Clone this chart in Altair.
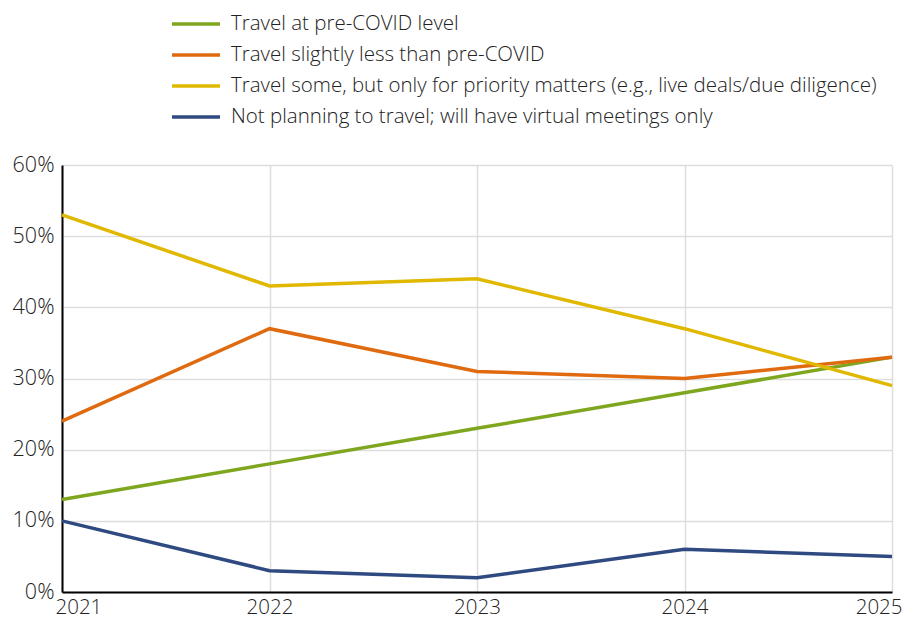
import altair as alt
import pandas as pd

years = [2021, 2022, 2023, 2024, 2025]
series_names = [
    "Travel at pre-COVID level",
    "Travel slightly less than pre-COVID",
    "Travel some, but only for priority matters (e.g., live deals/due diligence)",
    "Not planning to travel; will have virtual meetings only",
]
colors = ["#7fa61f", "#e06a10", "#e0b800", "#2f4a80"]
pre_covid = [0.13, 0.18, 0.23, 0.28, 0.33]
slightly_less = [0.24, 0.37, 0.31, 0.30, 0.33]
priority_only = [0.53, 0.43, 0.44, 0.37, 0.29]
virtual_only = [0.10, 0.03, 0.02, 0.06, 0.05]

rows = []
for name, vals in zip(series_names, [pre_covid, slightly_less, priority_only, virtual_only]):
    for y, v in zip(years, vals):
        rows.append({"series": name, "year": y, "value": v})
df = pd.DataFrame(rows)

FONT = "Open Sans"
WEIGHT = 300

chart = alt.Chart(df).mark_line(strokeWidth=3.5).encode(
    x=alt.X(
        "year:Q",
        scale=alt.Scale(domain=[2021, 2025], nice=False, zero=False),
        axis=alt.Axis(
            values=years, format="d", title=None, ticks=False,
            domainColor="#000", domainWidth=2, labelPadding=5,
            gridColor="#dddddd", gridWidth=1.5, labelFlush=True,
            labelFontSize=20.5, labelColor="#222", labelFont=FONT, labelFontWeight=WEIGHT,
            labelOffset={"condition": [
                {"test": "datum.value == 2021", "value": -7},
                {"test": "datum.value == 2025", "value": 10},
            ], "value": 0},
        ),
    ),
    y=alt.Y(
        "value:Q",
        scale=alt.Scale(domain=[0, 0.6], nice=False),
        axis=alt.Axis(
            values=[0, 0.1, 0.2, 0.3, 0.4, 0.5, 0.6], format=".0%", title=None, ticks=False,
            domainColor="#000", domainWidth=2, labelPadding=8,
            gridColor="#dddddd", gridWidth=1.5,
            labelFontSize=21.5, labelColor="#222", labelFont=FONT, labelFontWeight=WEIGHT,
        ),
    ),
    color=alt.Color(
        "series:N",
        scale=alt.Scale(domain=series_names, range=colors),
        legend=alt.Legend(
            title=None, orient="none", legendX=120, legendY=-155,
            direction="vertical", symbolType="M-2,0H2", symbolSize=576,
            symbolStrokeWidth=3.5, labelFontSize=20.5, labelFont=FONT, labelFontWeight=WEIGHT,
            labelColor="#222", labelOffset=21, rowPadding=6, labelLimit=800,
        ),
    ),
).properties(
    width=830, height=427,
    autosize=alt.AutoSizeParams(type="none"),
    padding={"left": 54, "top": 157, "right": 11, "bottom": 26},
).configure_view(stroke=None)

chart.save("out.html", embed_options={"renderer": "svg", "actions": False})
